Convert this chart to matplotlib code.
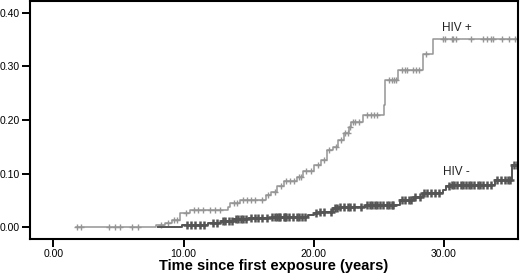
import numpy as np
import matplotlib
matplotlib.use("Agg")
import matplotlib.pyplot as plt

plt.rcParams['font.family'] = ['Liberation Sans', 'DejaVu Sans']

# HIV+ cumulative incidence steps (time, value)
pos_t = [1.7, 7.9, 8.6, 9.1, 9.7, 10.5, 13.4, 13.6, 14.3, 16.3, 16.7, 17.2, 17.7, 18.7, 19.2,
         20.0, 20.6, 21.0, 21.5, 21.9, 22.3, 22.7, 22.9, 23.8, 25.4, 25.5, 26.5, 28.4, 29.2, 35.7]
pos_y = [0.0, 0.004, 0.008, 0.014, 0.026, 0.032, 0.037, 0.045, 0.051, 0.060, 0.066, 0.076, 0.087,
         0.094, 0.104, 0.116, 0.125, 0.144, 0.150, 0.163, 0.175, 0.187, 0.197, 0.209, 0.228, 0.274,
         0.293, 0.324, 0.352, 0.352]
pos_cens = [1.8, 2.1, 4.3, 4.7, 5.1, 6.0, 6.5, 8.3, 8.8, 9.3, 9.5, 10.2, 10.8, 11.1, 11.5, 12.0,
            12.4, 12.8, 13.9, 14.1, 14.6, 14.9, 15.2, 15.5, 16.0, 16.5, 17.0, 17.5, 17.9, 18.2,
            18.5, 18.9, 19.0, 19.4, 19.8, 20.3, 20.8, 21.2, 21.7, 22.1, 22.4, 22.6, 22.8, 23.0,
            23.2, 23.5, 24.1, 24.4, 24.6, 24.9, 25.8, 26.0, 26.2, 26.3, 26.8, 27.0, 27.2, 27.6,
            27.9, 28.1, 28.6, 29.9, 30.1, 30.6, 30.7, 30.9, 32.1, 33.0, 33.3, 33.6, 33.8, 34.5,
            35.0, 35.5]

# HIV- cumulative incidence steps
neg_t = [8.0, 9.9, 11.9, 12.9, 13.8, 15.0, 16.8, 19.6, 20.0, 20.4, 21.5, 22.0, 24.0, 26.65,
         27.7, 28.4, 29.9, 30.2, 30.5, 33.95, 35.25, 35.7]
neg_y = [0.0, 0.005, 0.008, 0.012, 0.015, 0.017, 0.019, 0.022, 0.026, 0.029, 0.035, 0.038, 0.0415,
         0.051, 0.057, 0.063, 0.069, 0.076, 0.079, 0.088, 0.116, 0.116]
neg_cens = [10.3, 10.6, 10.9, 11.3, 11.6, 12.3, 12.6, 13.0, 13.2, 13.5, 13.7, 14.0, 14.2, 14.4,
            14.6, 14.8, 15.2, 15.5, 15.7, 16.0, 16.4, 16.8, 17.0, 17.2, 17.3, 17.4, 17.7, 17.8,
            17.9, 18.1, 18.4, 18.7, 18.9, 19.1, 19.3, 20.2, 20.5, 20.8, 21.3, 21.6, 21.8, 22.0,
            22.3, 22.6, 22.8, 23.1, 23.6, 24.1, 24.3, 24.5, 24.7, 24.9, 25.1, 25.3, 25.6, 25.8,
            26.0, 26.1, 26.8, 27.0, 27.3, 27.5, 27.8, 28.2, 28.5, 28.7, 29.0, 29.3, 29.6, 30.4,
            30.6, 30.8, 31.0, 31.3, 31.5, 31.7, 31.9, 32.1, 32.3, 32.6, 32.8, 33.0, 33.3, 33.6,
            34.1, 34.4, 34.7, 34.9, 35.1, 35.4, 35.6]

xticks = [0, 10, 20, 30]
yticks = [0.0, 0.1, 0.2, 0.3, 0.4]
labels = ["HIV +", "HIV -"]

pos_col = "#959595"
neg_col = "#555555"


def step_val(ts, ys, t):
    i = np.searchsorted(np.asarray(ts), np.asarray(t), side='right') - 1
    return np.asarray(ys)[np.clip(i, 0, len(ys) - 1)]


fig = plt.figure(figsize=(5.2, 2.77), dpi=100)
ax = fig.add_axes([30 / 520, 1 - 239 / 277, 488 / 520, 238 / 277])

ax.step(pos_t, pos_y, where='post', color=pos_col, lw=1.1)
ax.plot(pos_cens, step_val(pos_t, pos_y, pos_cens), ls='none', marker='+', ms=5,
        mew=1.0, color=pos_col)
ax.step(neg_t, neg_y, where='post', color=neg_col, lw=1.4)
ax.plot(neg_cens, step_val(neg_t, neg_y, neg_cens), ls='none', marker='+', ms=5.5,
        mew=1.8, color=neg_col)

ax.text(31.0, 0.371, labels[0], fontsize=8.5, ha='center', va='center', color='#222222')
ax.text(31.0, 0.103, labels[1], fontsize=8.5, ha='center', va='center', color='#222222')

ax.set_xlim(-1.8, 35.7)
ax.set_ylim(-0.022, 0.422)
ax.set_xticks(xticks)
ax.set_xticklabels([f"{v:.2f}" for v in xticks])
ax.set_yticks(yticks)
ax.set_yticklabels([f"{v:.2f}" for v in yticks])
ax.tick_params(axis='both', direction='out', length=5.5, width=1.4, labelsize=7.5,
               colors='black', pad=2)
ax.tick_params(axis='x', pad=1.5)
for s in ax.spines.values():
    s.set_linewidth(1.5)
ax.set_xlabel("Time since first exposure (years)", fontsize=10.5, fontweight='bold',
              labelpad=0.5)

fig.savefig("out.png", dpi=100)
